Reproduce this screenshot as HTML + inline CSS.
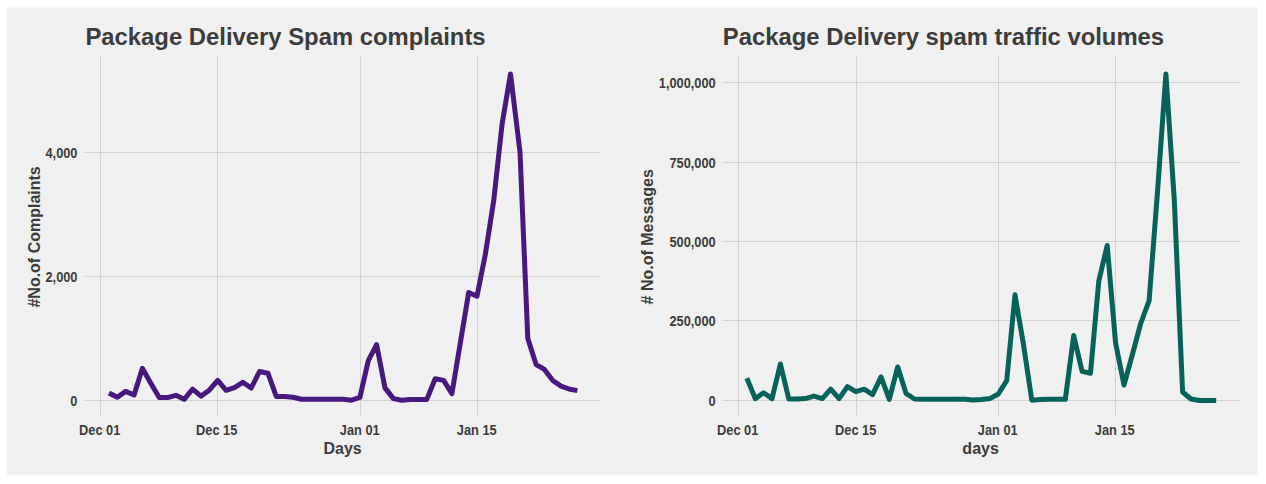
<!DOCTYPE html>
<html lang="en">
<head>
<meta charset="utf-8">
<title>Package Delivery Spam</title>
<style>
html,body{margin:0;padding:0;background:#ffffff;}
body{width:1266px;height:484px;overflow:hidden;position:relative;}
svg{position:absolute;left:0;top:0;display:block;}
text{font-family:"Liberation Sans",Arial,Helvetica,sans-serif;font-weight:bold;fill:#3c3c3c;}
.ti{font-size:23.85px;}
.ax{font-size:16px;}
.tk{font-size:12.8px;}
</style>
</head>
<body>
<svg width="1266" height="484" viewBox="0 0 1266 484">
<rect x="0" y="0" width="1266" height="484" fill="#ffffff"/>
<rect x="7" y="7" width="1250.5" height="468.5" rx="1.5" ry="1.5" fill="#f0f0f0"/>
<line x1="85.0" x2="600.0" y1="400.5" y2="400.5" stroke="#d2d2d2" stroke-width="1"/>
<line x1="85.0" x2="600.0" y1="276.5" y2="276.5" stroke="#d2d2d2" stroke-width="1"/>
<line x1="85.0" x2="600.0" y1="152.5" y2="152.5" stroke="#d2d2d2" stroke-width="1"/>
<line x1="100.5" x2="100.5" y1="56.0" y2="416.0" stroke="#d2d2d2" stroke-width="1"/>
<text transform="translate(99.7,434.9) scale(1,1.09)" text-anchor="middle" class="tk">Dec 01</text>
<line x1="217.5" x2="217.5" y1="56.0" y2="416.0" stroke="#d2d2d2" stroke-width="1"/>
<text transform="translate(216.7,434.9) scale(1,1.09)" text-anchor="middle" class="tk">Dec 15</text>
<line x1="360.5" x2="360.5" y1="56.0" y2="416.0" stroke="#d2d2d2" stroke-width="1"/>
<text transform="translate(359.7,434.9) scale(1,1.09)" text-anchor="middle" class="tk">Jan 01</text>
<line x1="477.5" x2="477.5" y1="56.0" y2="416.0" stroke="#d2d2d2" stroke-width="1"/>
<text transform="translate(476.7,434.9) scale(1,1.09)" text-anchor="middle" class="tk">Jan 15</text>
<text transform="translate(77.5,405.9) scale(1,1.09)" text-anchor="end" class="tk">0</text>
<text transform="translate(77.5,281.9) scale(1,1.09)" text-anchor="end" class="tk">2,000</text>
<text transform="translate(77.5,157.9) scale(1,1.09)" text-anchor="end" class="tk">4,000</text>
<polyline points="109.0,393.1 117.3,397.3 125.7,391.4 134.1,395.0 142.4,368.3 150.8,383.2 159.2,397.6 167.5,397.6 175.9,395.3 184.2,399.3 192.6,389.1 201.0,396.1 209.3,390.2 217.7,380.3 226.1,390.3 234.4,387.6 242.8,382.3 251.2,388.0 259.5,371.5 267.9,373.2 276.3,396.5 284.6,396.5 293.0,397.3 301.4,399.3 309.7,399.3 318.1,399.3 326.5,399.3 334.8,399.3 343.2,399.3 351.6,400.2 359.9,397.4 368.3,360.6 376.6,344.6 385.0,387.9 393.4,398.6 401.7,400.2 410.1,399.4 418.5,399.4 426.8,399.4 435.2,378.8 443.6,380.4 451.9,393.6 460.3,343.0 468.7,292.5 477.0,296.2 485.4,254.0 493.8,200.0 502.1,124.0 510.5,74.0 520.0,152.0 527.8,338.6 536.1,364.6 544.4,369.4 552.8,380.5 561.0,386.1 569.0,389.0 577.4,390.6" fill="none" stroke="#47187d" stroke-width="5" stroke-linejoin="round" stroke-linecap="butt"/>
<text x="85.4" y="45.4" class="ti">Package Delivery Spam complaints</text>
<text x="342.6" y="454.3" text-anchor="middle" class="ax">Days</text>
<text transform="translate(39.8,236.9) rotate(-90)" text-anchor="middle" class="ax">#No.of Complaints</text>
<line x1="722.5" x2="1240.0" y1="400.5" y2="400.5" stroke="#d2d2d2" stroke-width="1"/>
<line x1="722.5" x2="1240.0" y1="320.5" y2="320.5" stroke="#d2d2d2" stroke-width="1"/>
<line x1="722.5" x2="1240.0" y1="241.5" y2="241.5" stroke="#d2d2d2" stroke-width="1"/>
<line x1="722.5" x2="1240.0" y1="162.5" y2="162.5" stroke="#d2d2d2" stroke-width="1"/>
<line x1="722.5" x2="1240.0" y1="82.5" y2="82.5" stroke="#d2d2d2" stroke-width="1"/>
<line x1="738.5" x2="738.5" y1="56.0" y2="416.0" stroke="#d2d2d2" stroke-width="1"/>
<text transform="translate(737.7,434.9) scale(1,1.09)" text-anchor="middle" class="tk">Dec 01</text>
<line x1="856.5" x2="856.5" y1="56.0" y2="416.0" stroke="#d2d2d2" stroke-width="1"/>
<text transform="translate(855.7,434.9) scale(1,1.09)" text-anchor="middle" class="tk">Dec 15</text>
<line x1="998.5" x2="998.5" y1="56.0" y2="416.0" stroke="#d2d2d2" stroke-width="1"/>
<text transform="translate(997.7,434.9) scale(1,1.09)" text-anchor="middle" class="tk">Jan 01</text>
<line x1="1115.5" x2="1115.5" y1="56.0" y2="416.0" stroke="#d2d2d2" stroke-width="1"/>
<text transform="translate(1114.7,434.9) scale(1,1.09)" text-anchor="middle" class="tk">Jan 15</text>
<text transform="translate(715.7,405.9) scale(1,1.09)" text-anchor="end" class="tk">0</text>
<text transform="translate(715.7,325.9) scale(1,1.09)" text-anchor="end" class="tk">250,000</text>
<text transform="translate(715.7,246.9) scale(1,1.09)" text-anchor="end" class="tk">500,000</text>
<text transform="translate(715.7,167.9) scale(1,1.09)" text-anchor="end" class="tk">750,000</text>
<text transform="translate(715.7,87.9) scale(1,1.09)" text-anchor="end" class="tk">1,000,000</text>
<polyline points="746.9,378.3 755.3,398.6 763.6,392.8 772.0,398.6 780.4,364.0 788.8,399.0 797.2,399.0 805.5,398.6 813.9,396.1 822.3,398.6 830.7,389.2 839.1,398.6 847.4,386.6 855.8,391.6 864.2,389.2 872.6,394.6 881.0,376.9 889.3,399.3 897.7,367.0 906.1,393.5 914.5,399.0 922.9,399.3 931.2,399.3 939.6,399.3 948.0,399.3 956.4,399.3 964.8,399.3 973.1,400.0 981.5,399.4 989.9,398.6 998.3,394.0 1006.7,380.7 1015.0,294.8 1023.4,344.0 1031.8,400.2 1040.2,399.4 1048.6,399.3 1056.9,399.3 1065.3,399.3 1073.7,335.5 1082.1,371.4 1090.5,373.2 1098.8,281.0 1107.2,245.5 1115.6,343.0 1124.0,385.0 1132.4,354.5 1140.7,323.5 1149.1,300.7 1157.5,192.0 1165.9,74.0 1174.3,200.0 1182.6,392.0 1191.0,399.0 1199.4,400.5 1207.8,400.5 1216.2,400.5" fill="none" stroke="#07635a" stroke-width="5" stroke-linejoin="round" stroke-linecap="butt"/>
<text x="722.8" y="45.4" class="ti">Package Delivery spam traffic volumes</text>
<text x="980.6" y="454.3" text-anchor="middle" class="ax">days</text>
<text transform="translate(653.3,236.8) rotate(-90)" text-anchor="middle" class="ax"># No.of Messages</text>
</svg>
</body>
</html>
